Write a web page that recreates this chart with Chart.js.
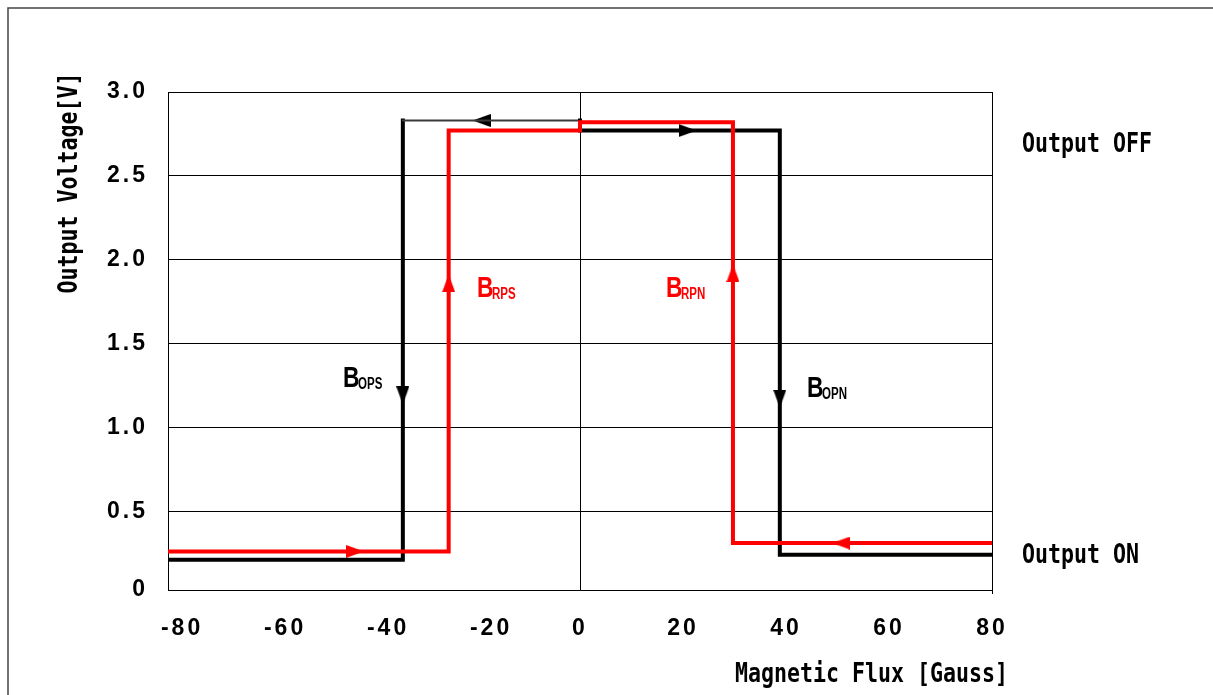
<!DOCTYPE html>
<html><head><meta charset="utf-8">
<script src="https://cdn.jsdelivr.net/npm/chart.js@4"></script>
<style>html,body{margin:0;padding:0;background:#fff;}canvas{display:block;}</style>
</head><body>
<canvas id="c" width="1213" height="695"></canvas>
<script>
// ---- data ----
const blackX = [-80, -34.4, -34.4, 0, 0, 38.8, 38.8, 80];
const blackY = [0.21, 0.21, 2.83, 2.83, 2.77, 2.77, 0.24, 0.24];
const redX = [-80, -25.5, -25.5, 0, 0, 29.7, 29.7, 80];
const redY = [0.26, 0.26, 2.77, 2.77, 2.82, 2.82, 0.31, 0.31];
const blackArrowX = [-34.4, 38.8, -19.1, 20.9];
const blackArrowY = [1.19, 1.17, 2.83, 2.77];
const blackArrowDir = [180, 180, 270, 90];
const redArrowX = [-25.5, 29.7, -43.7, 50.7];
const redArrowY = [1.86, 1.92, 0.26, 0.31];
const redArrowDir = [0, 0, 90, 270];
const xTickValues = [-80, -60, -40, -20, 0, 20, 40, 60, 80];
const xTickLabels = ['-80', '-60', '-40', '-20', '0', '20', '40', '60', '80'];
const yTickValues = [0, 0.5, 1.0, 1.5, 2.0, 2.5, 3.0];
const yTickLabels = ['0', '0.5', '1.0', '1.5', '2.0', '2.5', '3.0'];
const xMin = -80, xMax = 80, yMin = 0.03, yMax = 3.0;
const xTitle = 'Magnetic Flux [Gauss]';
const yTitle = 'Output Voltage[V]';
const stateLabels = ['Output OFF', 'Output ON'];
const stateLabelY = [2.64, 0.19];
const bSubs = ['OPS', 'RPS', 'RPN', 'OPN'];
const bLabelX = [-46.0, -20.0, 16.7, 44.1];
const bLabelY = [1.24, 1.775, 1.775, 1.18];
const bColors = ['#000000', '#ff0000', '#ff0000', '#000000'];

// ---- arrow head images ----
function arrowHead(color) {
  const c = document.createElement('canvas');
  c.width = 13; c.height = 18;
  const g = c.getContext('2d');
  g.fillStyle = color;
  g.beginPath(); g.moveTo(6.5, 0); g.lineTo(13, 18); g.lineTo(0, 18); g.closePath(); g.fill();
  return c;
}
const blackHead = arrowHead('#000000');
const redHead = arrowHead('#ff0000');

const pts = (xs, ys) => xs.map((x, i) => ({x: x, y: ys[i]}));

function txt(ctx, s, x, y, font, color, sx, align, rot) {
  ctx.save();
  ctx.letterSpacing = '0px';
  ctx.translate(x, y);
  if (rot) ctx.rotate(rot);
  ctx.scale(sx, 1);
  ctx.font = font; ctx.fillStyle = color;
  ctx.textAlign = align || 'left'; ctx.textBaseline = 'alphabetic';
  ctx.fillText(s, 0, 0);
  ctx.restore();
}

const MONO = 'bold 27px "DejaVu Sans Mono"';
const annot = {
  id: 'annot',
  beforeDraw(chart) { chart.ctx.letterSpacing = '3px'; },
  beforeDatasetsDraw(chart) { chart.ctx.letterSpacing = '0px'; },
  afterDraw(chart) {
    const ctx = chart.ctx, a = chart.chartArea;
    const xs = chart.scales.x, ys = chart.scales.y;
    ctx.save();
    ctx.strokeStyle = '#000'; ctx.lineWidth = 1;
    ctx.beginPath(); ctx.moveTo(a.right + 0.5, a.top); ctx.lineTo(a.right + 0.5, a.bottom + 4); ctx.stroke();
    ctx.strokeStyle = '#444'; ctx.lineWidth = 1.5;
    ctx.beginPath(); ctx.moveTo(8, chart.height); ctx.lineTo(8, 8); ctx.lineTo(chart.width, 8); ctx.stroke();
    ctx.restore();
    txt(ctx, yTitle, a.left - 91, a.top + 91, MONO, '#000', 0.80, 'center', -Math.PI / 2);
    txt(ctx, xTitle, a.right - 257, a.bottom + 92, MONO, '#000', 0.80, 'left');
    stateLabels.forEach((s, i) => txt(ctx, s, a.right + 30, ys.getPixelForValue(stateLabelY[i]), MONO, '#000', 0.80, 'left'));
    bSubs.forEach((s, i) => {
      const px = xs.getPixelForValue(bLabelX[i]), py = ys.getPixelForValue(bLabelY[i]);
      txt(ctx, 'B', px, py, 'bold 30px "Liberation Sans"', bColors[i], 0.76, 'left');
      txt(ctx, s, px + 15, py + 2, 'bold 16px "Liberation Sans"', bColors[i], 0.72, 'left');
    });
  }
};

new Chart(document.getElementById('c'), {
  type: 'scatter',
  data: {
    datasets: [
      {
        data: pts(redX, redY), showLine: true, borderColor: '#ff0000', borderWidth: 4,
        pointRadius: 0, borderCapStyle: 'square', borderJoinStyle: 'miter', tension: 0
      },
      {
        data: pts(blackX, blackY), showLine: true, borderColor: '#000000', borderWidth: 4,
        pointRadius: 0, borderCapStyle: 'square', borderJoinStyle: 'miter', tension: 0,
        segment: {
          borderWidth: c => c.p0DataIndex === 2 ? 2 : 4,
          borderColor: c => c.p0DataIndex === 2 ? '#3a3a3a' : '#000000'
        }
      },
      {
        data: pts(redArrowX, redArrowY), showLine: false, pointRadius: 6,
        pointStyle: redHead, pointRotation: redArrowDir
      },
      {
        data: pts(blackArrowX, blackArrowY), showLine: false, pointRadius: 6,
        pointStyle: blackHead, pointRotation: blackArrowDir
      }
    ]
  },
  options: {
    responsive: false, animation: false,
    layout: {padding: {top: 92, right: 221, left: 0, bottom: 0}},
    plugins: {legend: {display: false}, tooltip: {enabled: false}},
    scales: {
      x: {
        type: 'linear', min: xMin, max: xMax,
        afterFit: s => { s.height = 105; },
        afterBuildTicks: s => { s.ticks = xTickValues.map(v => ({value: v})); },
        grid: {drawTicks: false, color: c => (c.tick && c.tick.value === 0) ? '#000' : 'rgba(0,0,0,0)', lineWidth: 1},
        border: {display: true, color: '#000', width: 1},
        ticks: {
          padding: 25, color: '#000', font: {family: '"Liberation Sans"', size: 23, weight: 'bold'},
          maxRotation: 0, autoSkip: false,
          callback: (v, i) => (xTickLabels[i].startsWith('-') ? '   ' : '') + xTickLabels[i]
        }
      },
      y: {
        type: 'linear', min: yMin, max: yMax,
        afterFit: s => { s.width = 168; },
        afterBuildTicks: s => { s.ticks = yTickValues.map(v => ({value: Math.max(v, yMin)})); },
        grid: {drawTicks: false, color: '#000', lineWidth: 1},
        border: {display: true, color: '#000', width: 1},
        ticks: {
          padding: 20, color: '#000', font: {family: '"Liberation Sans"', size: 23, weight: 'bold'},
          autoSkip: false,
          callback: (v, i) => yTickLabels[i]
        }
      }
    }
  },
  plugins: [annot]
});
</script>
</body></html>
